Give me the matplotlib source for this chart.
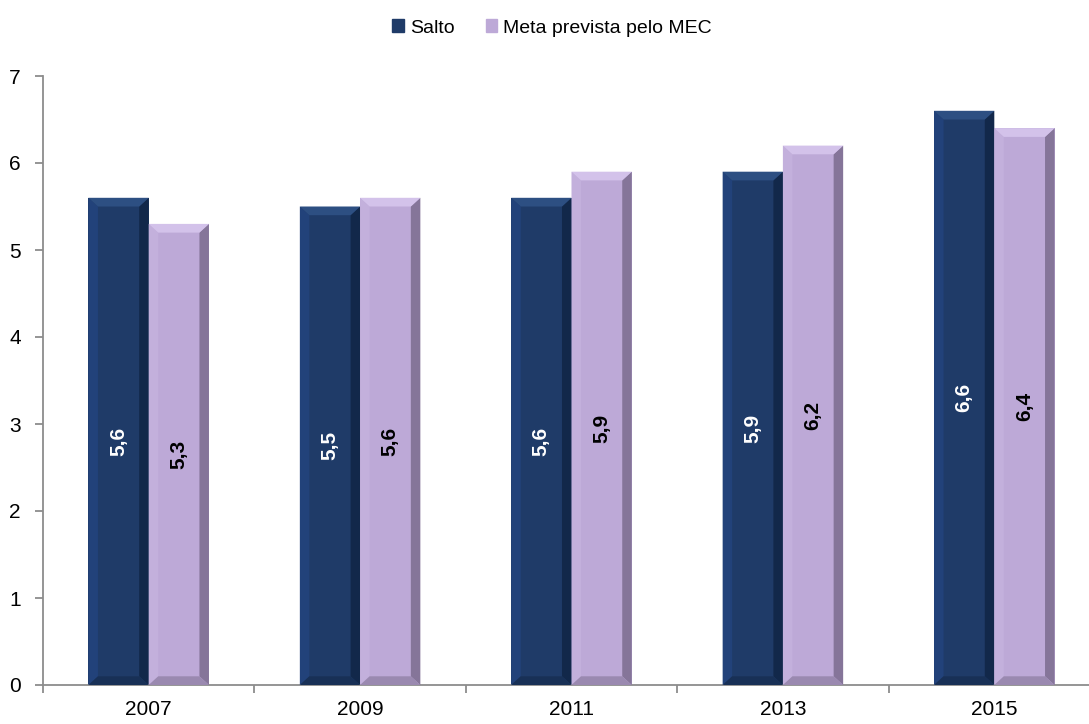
import numpy as np
import matplotlib
matplotlib.use("Agg")
import matplotlib.pyplot as plt
from matplotlib.patches import Polygon

years = ["2007", "2009", "2011", "2013", "2015"]
salto = [5.6, 5.5, 5.6, 5.9, 6.6]
meta = [5.3, 5.6, 5.9, 6.2, 6.4]
series_names = ["Salto", "Meta prevista pelo MEC"]

plt.rcParams["font.family"] = ["Liberation Sans", "DejaVu Sans"]

# face, left, right, top, bottom shades for the bevelled bars
shades = {
    "Salto": ("#1f3b68", "#22427a", "#12284a", "#2d4f82", "#183056"),
    "Meta": ("#bda9d7", "#c3b0dc", "#857599", "#d3c2ea", "#9a89b0"),
}

fig = plt.figure(figsize=(10.89, 7.24), dpi=100)
ax = fig.add_axes([43 / 1089, 1 - 685 / 724, 1057 / 1089, 609 / 724])

x = np.arange(len(years))
w = 0.285


def bevel_bar(ax, xc, h, cols):
    face, lft, rgt, top, bot = cols
    b, by = 0.045, 0.1
    x0, x1 = xc - w / 2, xc + w / 2
    ax.bar(xc, h, w, color=face, linewidth=0, zorder=2)
    ax.add_patch(Polygon([(x0, 0), (x0 + b, by), (x0 + b, h - by), (x0, h)], closed=True, color=lft, lw=0, zorder=3))
    ax.add_patch(Polygon([(x1, 0), (x1 - b, by), (x1 - b, h - by), (x1, h)], closed=True, color=rgt, lw=0, zorder=3))
    ax.add_patch(Polygon([(x0, h), (x1, h), (x1 - b, h - by), (x0 + b, h - by)], closed=True, color=top, lw=0, zorder=3))
    ax.add_patch(Polygon([(x0, 0), (x1, 0), (x1 - b, by), (x0 + b, by)], closed=True, color=bot, lw=0, zorder=3))


for i in range(len(years)):
    bevel_bar(ax, x[i] - w / 2, salto[i], shades["Salto"])
    bevel_bar(ax, x[i] + w / 2, meta[i], shades["Meta"])
    ax.text(x[i] - w / 2, salto[i] / 2, f"{salto[i]:.1f}".replace(".", ","), rotation=90,
            ha="center", va="center", color="white", fontsize=15, fontweight="bold", zorder=4)
    ax.text(x[i] + w / 2, meta[i] / 2, f"{meta[i]:.1f}".replace(".", ","), rotation=90,
            ha="center", va="center", color="black", fontsize=15, fontweight="bold", zorder=4)

ax.set_xlim(-0.5, len(years) - 0.5)
ax.set_ylim(0, 7)
ax.set_xticks(x)
ax.set_xticklabels(years)
ax.set_xticks(np.arange(len(years) + 1) - 0.5, minor=True)
ax.tick_params(axis="x", which="major", length=0, labelsize=15, pad=11)
ax.tick_params(axis="x", which="minor", length=6, width=1.3, color="#8c8c8c", direction="out")
ax.set_yticks(range(8))
ax.tick_params(axis="y", length=6, width=1.3, color="#8c8c8c", labelsize=15, pad=10)
for s in ["top", "right"]:
    ax.spines[s].set_visible(False)
for s in ["left", "bottom"]:
    ax.spines[s].set_color("#8c8c8c")
    ax.spines[s].set_linewidth(1.3)

handles = [plt.Rectangle((0, 0), 1, 1, color=shades["Salto"][0]),
           plt.Rectangle((0, 0), 1, 1, color=shades["Meta"][0])]
fig.legend(handles, series_names, loc="center", bbox_to_anchor=(552 / 1089, 1 - 28 / 724),
           ncol=2, frameon=False, fontsize=14, handlelength=0.6, handleheight=0.6,
           handletextpad=0.3, columnspacing=1.6)

fig.savefig("out.png", dpi=100)
